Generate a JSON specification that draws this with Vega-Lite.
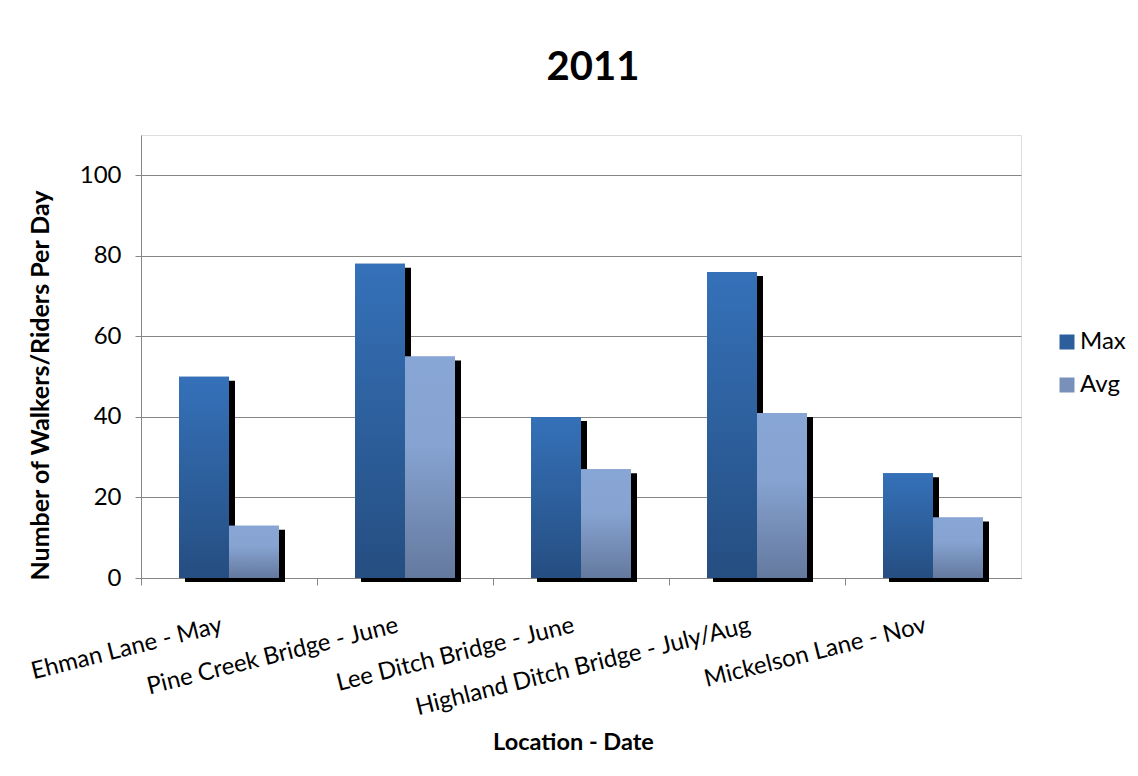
{
  "$schema": "https://vega.github.io/schema/vega-lite/v6.json",
  "width": 880,
  "height": 443,
  "autosize": {"type": "none"},
  "padding": {"left": 141, "top": 135, "right": 117, "bottom": 198},
  "background": "white",
  "title": {
    "text": "2011",
    "font": "Lato",
    "fontSize": 40,
    "fontWeight": "bold",
    "color": "black",
    "anchor": "middle",
    "dx": 12,
    "offset": 47
  },
  "data": {
    "values": [
      {"location": "Ehman Lane - May", "series": "Max", "walkers": 50},
      {"location": "Ehman Lane - May", "series": "Avg", "walkers": 13},
      {"location": "Pine Creek Bridge - June", "series": "Max", "walkers": 78},
      {"location": "Pine Creek Bridge - June", "series": "Avg", "walkers": 55},
      {"location": "Lee Ditch Bridge - June", "series": "Max", "walkers": 40},
      {"location": "Lee Ditch Bridge - June", "series": "Avg", "walkers": 27},
      {"location": "Highland Ditch Bridge - July/Aug", "series": "Max", "walkers": 76},
      {"location": "Highland Ditch Bridge - July/Aug", "series": "Avg", "walkers": 41},
      {"location": "Mickelson Lane - Nov", "series": "Max", "walkers": 26},
      {"location": "Mickelson Lane - Nov", "series": "Avg", "walkers": 15}
    ]
  },
  "encoding": {
    "x": {
      "field": "location",
      "type": "nominal",
      "sort": null,
      "scale": {"paddingInner": 0.432, "paddingOuter": 0.216},
      "axis": {
        "title": "Location - Date",
        "titleFont": "Lato",
        "titleFontSize": 23.5,
        "titleFontWeight": "bold",
        "titleColor": "black",
        "titleX": 432,
        "titleY": 164,
        "titleBaseline": "middle",
        "labelFont": "Lato",
        "labelFontSize": 24,
        "labelColor": "black",
        "labelAngle": -14,
        "labelAlign": "right",
        "labelBaseline": "top",
        "labelPadding": 28,
        "labelOffset": -10,
        "labelLimit": 0,
        "bandPosition": -0.38,
        "domainColor": "#868686",
        "tickColor": "#868686",
        "tickSize": 7,
        "grid": false
      }
    },
    "y": {
      "field": "walkers",
      "type": "quantitative",
      "scale": {"domain": [0, 110], "nice": false},
      "axis": {
        "title": "Number of Walkers/Riders Per Day",
        "titleFont": "Lato",
        "titleFontSize": 25,
        "titleFontWeight": "bold",
        "titleColor": "black",
        "titlePadding": 26,
        "titleY": 250,
        "labelFont": "Lato",
        "labelFontSize": 24,
        "labelColor": "black",
        "labelPadding": 14,
        "values": [0, 20, 40, 60, 80, 100],
        "grid": true,
        "gridColor": "#868686",
        "gridWidth": 1,
        "domainColor": "#868686",
        "tickColor": "#868686",
        "tickSize": 6
      }
    }
  },
  "layer": [
    {
      "transform": [{"filter": "datum.series === 'Max'"}],
      "mark": {"type": "bar", "color": "black", "width": 50, "xOffset": -19, "yOffset": 4, "y2Offset": 0}
    },
    {
      "transform": [{"filter": "datum.series === 'Avg'"}],
      "mark": {"type": "bar", "color": "black", "width": 50, "xOffset": 31, "yOffset": 4, "y2Offset": 0}
    },
    {
      "mark": {"type": "bar"},
      "encoding": {
        "xOffset": {
          "field": "series",
          "type": "nominal",
          "sort": ["Max", "Avg"],
          "scale": {"domain": ["Max", "Avg"], "paddingInner": 0, "paddingOuter": 0}
        },
        "fill": {
          "field": "series",
          "type": "nominal",
          "sort": ["Max", "Avg"],
          "scale": {"domain": ["Max", "Avg"], "range": ["#2D5E9C", "#7890BA"]},
          "legend": {
            "title": null,
            "orient": "none",
            "legendX": 914,
            "legendY": 195,
            "symbolType": "square",
            "symbolSize": 225,
            "symbolStrokeWidth": 0,
            "symbolOpacity": 1,
            "labelFont": "Lato",
            "labelFontSize": 24,
            "labelColor": "black",
            "labelOffset": 1,
            "rowPadding": 19
          }
        }
      }
    },
    {
      "mark": {"type": "bar"},
      "encoding": {
        "xOffset": {
          "field": "series",
          "type": "nominal",
          "sort": ["Max", "Avg"]
        },
        "fill": {
          "condition": {
            "test": "datum.series === 'Max'",
            "value": {"gradient": "linear", "x1": 0, "y1": 0, "x2": 0, "y2": 1,
              "stops": [{"offset": 0, "color": "#3571B9"}, {"offset": 1, "color": "#254E81"}]}
          },
          "value": {"gradient": "linear", "x1": 0, "y1": 0, "x2": 0, "y2": 1,
            "stops": [{"offset": 0, "color": "#88A6D5"}, {"offset": 0.4, "color": "#86A3D1"}, {"offset": 1, "color": "#64799E"}]}
        }
      }
    }
  ]
}
